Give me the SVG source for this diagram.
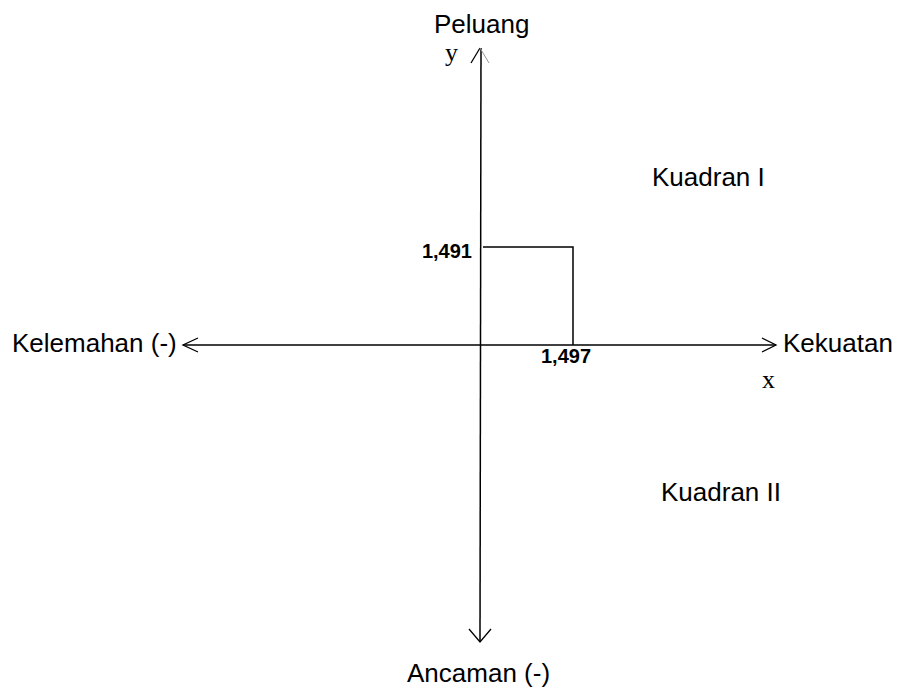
<svg xmlns="http://www.w3.org/2000/svg" width="903" height="689" viewBox="0 0 903 689">
  <style>
    .axis { stroke: #000; stroke-width: 1.5; fill: none; }
    .head { stroke: #000; stroke-width: 1.3; fill: none; }
    .lbl { font-family: "Liberation Sans", Arial, sans-serif; font-size: 26px; fill: #000; }
    .val { font-family: "Liberation Sans", Arial, sans-serif; font-size: 20px; font-weight: bold; fill: #000; }
    .var { font-family: "Liberation Serif", "Times New Roman", serif; font-size: 26px; fill: #000; }
  </style>
  <rect width="903" height="689" fill="#fff"/>
  <g id="connectors">
    <!-- vertical axis -->
    <line class="axis" x1="481" y1="48" x2="480" y2="642"/>
    <path class="head" d="M471 63 L480 48"/>
    <path d="M480 48 L489 63" stroke="#999" stroke-width="1" fill="none"/>
    <path class="head" d="M469 629 L480 642 L491 629"/>
    <!-- horizontal axis -->
    <line class="axis" x1="183" y1="345" x2="776" y2="345"/>
    <path class="head" d="M198 338 L183 345 L198 352"/>
    <path class="head" d="M762 338 L776 345 L762 352"/>
    <!-- coordinate marker -->
    <path class="axis" d="M483 247 L573 247 L573 345"/>
  </g>
  <g id="peluang"><text class="lbl" x="434" y="33">Peluang</text></g>
  <g id="y-label"><text class="var" x="445" y="61">y</text></g>
  <g id="kelemahan"><text class="lbl" x="12" y="352">Kelemahan (-)</text></g>
  <g id="kekuatan"><text class="lbl" x="783" y="352">Kekuatan</text></g>
  <g id="x-label"><text class="var" x="762" y="388">x</text></g>
  <g id="ancaman"><text class="lbl" x="407" y="682">Ancaman (-)</text></g>
  <g id="kuadran-1"><text class="lbl" x="652" y="186">Kuadran I</text></g>
  <g id="kuadran-2"><text class="lbl" x="661" y="501">Kuadran II</text></g>
  <g id="value-y"><text class="val" x="472" y="258" text-anchor="end">1,491</text></g>
  <g id="value-x"><text class="val" x="541" y="363">1,497</text></g>
</svg>
